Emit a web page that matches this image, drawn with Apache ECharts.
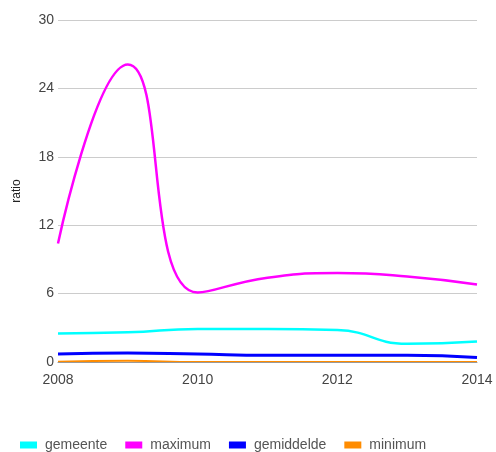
<!DOCTYPE html>
<html><head><meta charset="utf-8">
<script src="https://cdn.jsdelivr.net/npm/echarts@6/dist/echarts.min.js"></script>
<style>html,body{margin:0;padding:0;background:#fff}#c{width:496px;height:452px}</style>
</head><body><div id="c"></div>
<script>
var years = [2008, 2009, 2010, 2011, 2012, 2013, 2014];
var gemeente = [2.5, 2.6, 2.9, 2.9, 2.8, 1.6, 1.8];
var maximum = [10.4, 26.1, 6.1, 7.4, 7.8, 7.5, 6.8];
var gemiddelde = [0.7, 0.8, 0.7, 0.6, 0.6, 0.6, 0.4];
var minimum = [0.02, 0.1, 0, 0, 0, 0, 0];
var yTicks = [0, 6, 12, 18, 24, 30];
var xTicks = [2008, 2010, 2012, 2014];

function pairs(v){ return years.map(function(y,i){ return [y, v[i]]; }); }
var font = 'Arial, "Liberation Sans", sans-serif';
var chart = echarts.init(document.getElementById('c'), null, {renderer:'canvas'});
function mk(name, data, color, w){
  return {name:name, type:'line', data:pairs(data), smooth:0.5, showSymbol:false, symbol:'none',
    lineStyle:{color:color, width:w}, itemStyle:{color:color}, clip:true};
}
chart.setOption({
  animation:false,
  grid:{left:58, right:19, top:20, bottom:90},
  legend:{top:433, left:15, itemWidth:17, itemHeight:7, itemGap:18,
    icon:'rect',
    textStyle:{color:'#555', fontSize:14, fontFamily:font, padding:[0,0,0,3]},
    data:['gemeente','maximum','gemiddelde','minimum']},
  xAxis:{type:'value', min:xTicks[0], max:xTicks[xTicks.length-1], interval:2, z:5,
    axisLine:{show:true, lineStyle:{color:'#999', width:1}}, axisTick:{show:false},
    splitLine:{show:false},
    axisLabel:{color:'#444', fontSize:14, fontFamily:font, margin:11,
      formatter:function(v){ return xTicks.indexOf(v)>=0 ? String(v) : ''; }}},
  yAxis:{type:'value', min:yTicks[0], max:yTicks[yTicks.length-1], interval:6,
    name:'ratio', nameLocation:'middle', nameGap:35, nameRotate:90,
    nameTextStyle:{color:'#222', fontSize:12, fontFamily:font},
    axisLine:{show:false}, axisTick:{show:false},
    splitLine:{lineStyle:{color:'#ccc', width:1}},
    axisLabel:{color:'#444', fontSize:14, fontFamily:font, margin:4}},
  series:[
    mk('gemeente', gemeente, '#00ffff', 2.5),
    mk('maximum', maximum, '#ff00ff', 2.5),
    mk('gemiddelde', gemiddelde, '#0000ff', 3),
    mk('minimum', minimum, '#ff8c00', 2)
  ]
});
</script></body></html>
